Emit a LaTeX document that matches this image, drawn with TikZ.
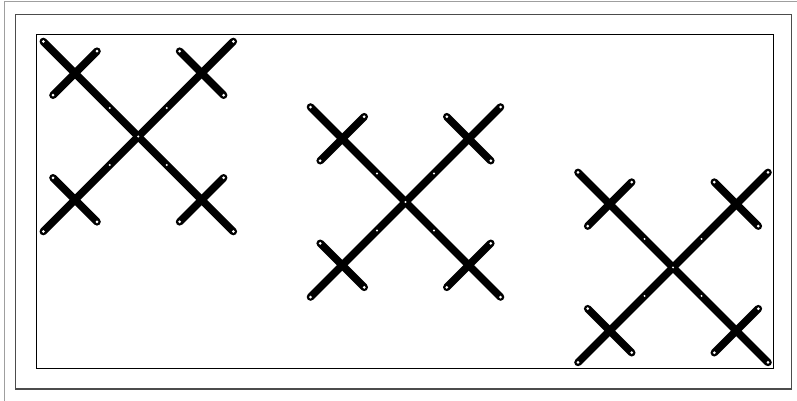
\documentclass[tikz,border=0pt]{standalone}
\tikzset{
  strip/.style={line width=7.6pt,line cap=round,draw=black},
  hole/.style={fill=white,draw=none},
  pics/meccano/.style={code={
    \draw[strip] (-95,-95) -- (95,95);
    \draw[strip] (95,-95) -- (-95,95);
    \draw[strip] (-85.3,-41.3) -- (-41.3,-85.3);
    \draw[strip] (41.3,-85.3) -- (85.3,-41.3);
    \draw[strip] (-85.3,41.3) -- (-41.3,85.3);
    \draw[strip] (41.3,85.3) -- (85.3,41.3);
    \foreach \p in {(-95,-95),(95,95),(95,-95),(-95,95),
                    (-85.3,-41.3),(-41.3,-85.3),(41.3,-85.3),(85.3,-41.3),
                    (-85.3,41.3),(-41.3,85.3),(41.3,85.3),(85.3,41.3)}
      \fill[hole] \p circle (1.5);
    \foreach \p in {(0,0),(-28.5,-28.5),(28.5,28.5),(28.5,-28.5),(-28.5,28.5)}
      \fill[hole] \p circle (1.1);
  }}
}
\begin{document}
\begin{tikzpicture}[x=1pt,y=-1pt]
\useasboundingbox (0,0) rectangle (797,400);
\draw[gray!75,line width=1.3pt] (4.3,1.7) rectangle (812,412);
\draw[black!70,line width=1.2pt] (15.7,14.3) rectangle (791.7,389);
\draw[black,line width=0.8pt] (36.7,34.7) rectangle (773,368);
\pic (c1) at (138.3,136.5) {meccano};
\pic (c2) at (405.5,202) {meccano};
\pic (c3) at (673,267.4) {meccano};
\end{tikzpicture}
\end{document}
